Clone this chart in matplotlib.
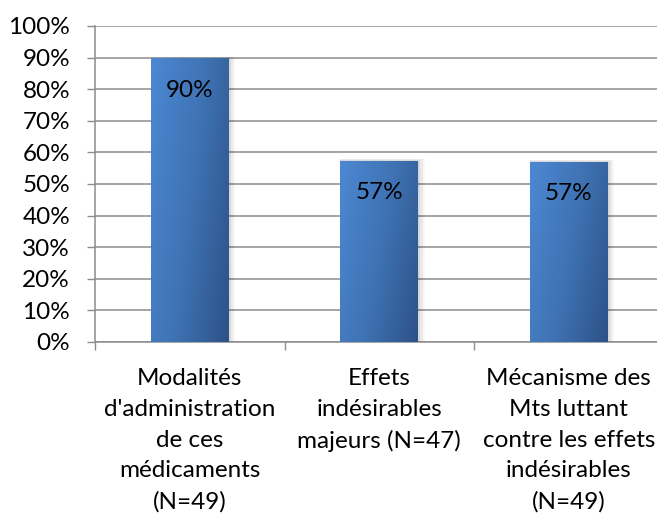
import matplotlib
matplotlib.use("Agg")
import matplotlib.pyplot as plt
import numpy as np
from matplotlib.colors import LinearSegmentedColormap
from matplotlib.ticker import PercentFormatter

categories = ["Modalités\nd'administration\nde ces\nmédicaments\n(N=49)",
              "Effets\nindésirables\nmajeurs (N=47)",
              "Mécanisme des\nMts luttant\ncontre les effets\nindésirables\n(N=49)"]
values = [0.898, 0.574, 0.571]
labels = ["90%", "57%", "57%"]
yticks = [0, 0.1, 0.2, 0.3, 0.4, 0.5, 0.6, 0.7, 0.8, 0.9, 1.0]

plt.rcParams['font.family'] = ['Lato', 'DejaVu Sans']
FS = 17.5
FSX = 17.5
W, H = 657, 518
fig = plt.figure(figsize=(W/100, H/100), dpi=100)
ax = fig.add_axes([95/W, 1-342/H, (W-95)/W + 0.01, (342-26)/H])

grid_c = '#8c8c8c'
x = np.arange(len(values))
bars = ax.bar(x, values, width=0.41, color='none', edgecolor='none', zorder=3)

cmap = LinearSegmentedColormap.from_list('g', ['#4c88d3', '#3f73b4', '#2d5288'])
gx, gy = np.meshgrid(np.linspace(0, 1, 60), np.linspace(0, 1, 200))
grad = 0.7 * gx + 0.3 * gy
for b in bars:
    x0, y0 = b.get_x(), b.get_y()
    w, h = b.get_width(), b.get_height()
    # soft shadow to the right
    for k, a in enumerate([0.08, 0.05, 0.03]):
        d = 0.012 * (k + 1)
        ax.add_patch(plt.Rectangle((x0, y0), w + d, h + d * 0.15,
                                   facecolor='black', alpha=a, edgecolor='none', zorder=2.5))
    im = ax.imshow(grad, extent=[x0, x0 + w, y0, y0 + h], origin='upper',
                   cmap=cmap, aspect='auto', zorder=3)
    im.set_clip_path(b)

for xi, v, lab in zip(x, values, labels):
    ax.text(xi, v - 0.068, lab, ha='center', va='top', fontsize=FS, color='black', zorder=5)

ax.set_xlim(-0.5, 2.5)
ax.set_ylim(0, 1.0)
ax.set_yticks(yticks)
ax.yaxis.set_major_formatter(PercentFormatter(1.0, decimals=0))
ax.set_xticks([-0.5, 0.5, 1.5, 2.5])
ax.set_xticklabels([])
ax.set_xticks(x, minor=True)
ax.set_xticklabels(categories, minor=True, fontsize=FSX, linespacing=1.57)
ax.tick_params(axis='x', which='minor', length=0, pad=19)
ax.tick_params(axis='x', which='major', length=6, width=1, color=grid_c, direction='out')
ax.tick_params(axis='y', length=6, width=1, color=grid_c, direction='out', labelsize=FS, pad=12)

ax.yaxis.grid(True, color=grid_c, linewidth=1.1, zorder=0)
ax.set_axisbelow(True)
for s in ['top', 'right']:
    ax.spines[s].set_visible(False)
for s in ['left', 'bottom']:
    ax.spines[s].set_color(grid_c)
    ax.spines[s].set_linewidth(1.1)

fig.savefig('out.png', dpi=100)
